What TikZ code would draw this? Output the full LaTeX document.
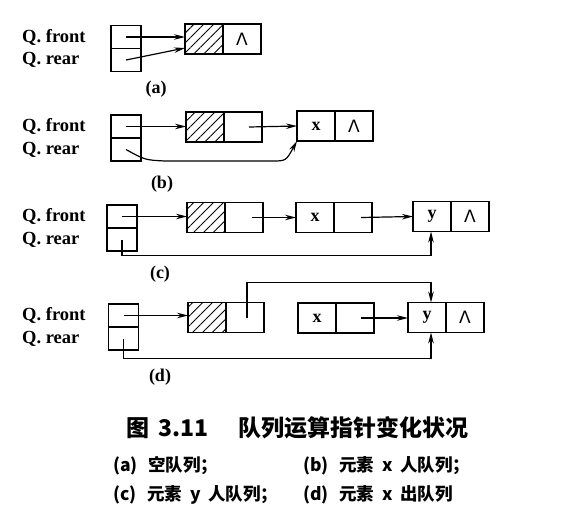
\documentclass[tikz,border=0pt]{standalone}
\usepackage{fontspec}
\newfontfamily\cjk{Noto Sans CJK SC}
\newfontfamily\symf{DejaVu Sans}
\newfontfamily\serifb{Liberation Serif}
\usetikzlibrary{arrows.meta,patterns.meta,positioning}

\begin{document}
\begin{tikzpicture}[x=1pt,y=-1pt]
  \tikzset{cell/.style = {draw,line width=1.2pt,outer sep=0pt,minimum width=38pt,minimum height=30pt,inner sep=0pt,font=\serifb\bfseries\fontsize{18}{18}\selectfont}}
  \tikzset{hatch/.style = {cell,pattern={Lines[angle=45,distance=7pt,line width=0.9pt]}}}
  \tikzset{ptr/.style = {draw,line width=1.2pt,outer sep=0pt,minimum width=30pt,minimum height=23pt,inner sep=0pt}}
  \tikzset{lab/.style = {anchor=west,inner sep=0pt,font=\serifb\bfseries\fontsize{18.5}{18.5}\selectfont}}
  \tikzset{sub/.style = {inner sep=0pt,font=\serifb\bfseries\fontsize{18}{18}\selectfont}}
  \tikzset{captext/.style = {anchor=west,inner sep=0pt,font=\cjk\bfseries\fontsize{17.5}{17.5}\selectfont}}
  \tikzset{edge/.style = {line width=1.2pt,-{Stealth[length=11pt,width=5.5pt]}}}
  \newcommand{\nil}{{\symf\mdseries\fontsize{17}{17}\selectfont Λ}}
  \useasboundingbox (0,0) rectangle (563,525);

  % (a) empty queue
  \node[ptr] (a0f) at (126,37) {};
  \node[ptr,below=0pt of a0f] (a0r) {};
  \node[hatch] (a1d) at (204,39) {};
  \node[cell,right=0pt of a1d] (a1n) {\nil};
  \node[lab] (af) at (22,37) {Q. front};
  \node[lab] (ar) at (22,60) {Q. rear};
  \node[sub] (acap) at (156,89) {(a)};
  \draw[edge] (a0f.center) -- (a0f.center -| a1d.west);
  \draw[edge] (a0r.center) -- ([yshift=-9pt]a1d.west);

  % (b) x enters
  \node[ptr] (b0f) at (126,126.5) {};
  \node[ptr,below=0pt of b0f] (b0r) {};
  \node[hatch] (b1d) at (205,127) {};
  \node[cell,right=0pt of b1d] (b1n) {};
  \node[cell] (b2d) at (316,126) {x};
  \node[cell,right=0pt of b2d] (b2n) {\nil};
  \node[lab] (bf) at (22,126.5) {Q. front};
  \node[lab] (br) at (22,150) {Q. rear};
  \node[sub] (bcap) at (162,184) {(b)};
  \draw[edge] (b0f.center) -- (b0f.center -| b1d.west);
  \draw[edge] ([xshift=6pt]b1n.center) -- (b2d.west);
  \draw[edge] (b0r.center) .. controls (145,160) .. (165,161) -- (272,161)
    .. controls (286,161) .. (b2d.south west);

  % (c) y enters
  \node[ptr] (c0f) at (122,216.5) {};
  \node[ptr,below=0pt of c0f] (c0r) {};
  \node[hatch] (c1d) at (206,217.5) {};
  \node[cell,right=0pt of c1d] (c1n) {};
  \node[cell] (c2d) at (315,217.5) {x};
  \node[cell,right=0pt of c2d] (c2n) {};
  \node[cell] (c3d) at (432,216.5) {y};
  \node[cell,right=0pt of c3d] (c3n) {\nil};
  \node[lab] (cf) at (22,216.5) {Q. front};
  \node[lab] (cr) at (22,240) {Q. rear};
  \node[sub] (ccap) at (160,274) {(c)};
  \draw[edge] (c0f.center) -- (c0f.center -| c1d.west);
  \draw[edge] ([xshift=8pt]c1n.center) -- (c2d.west);
  \draw[edge] ([xshift=8pt]c2n.center) -- (c3d.west);
  \draw[edge] (c0r.center) -- ++(0,16) -| ([xshift=-1pt]c3d.south);

  % (d) x leaves
  \node[ptr] (d0f) at (123.5,315.5) {};
  \node[ptr,below=0pt of d0f] (d0r) {};
  \node[hatch] (d1d) at (207,317.5) {};
  \node[cell,right=0pt of d1d] (d1n) {};
  \node[cell] (d2d) at (317,318) {x};
  \node[cell,right=0pt of d2d] (d2n) {};
  \node[cell] (d3d) at (427,317.5) {y};
  \node[cell,right=0pt of d3d] (d3n) {\nil};
  \node[lab] (df) at (22,315.5) {Q. front};
  \node[lab] (dr) at (22,339) {Q. rear};
  \node[sub] (dcap) at (160,377) {(d)};
  \draw[edge] (d0f.center) -- (d0f.center -| d1d.west);
  \draw[edge] ([xshift=2pt]d1n.center) -- ++(0,-35) -| ([xshift=4pt]d3d.north);
  \draw[edge] ([xshift=6pt]d2n.center) -- (d2n.center -| d3d.west);
  \draw[edge] (d0r.center) -- ++(0,20) -| ([xshift=4pt]d3d.south);

  % caption
  \node[anchor=west,inner sep=0pt,font=\cjk\bfseries\fontsize{23}{23}\selectfont] (title) at (126,428)
    {图\hspace{0.4em}3.11\hspace{1.3em}队列运算指针变化状况};
  \node[captext] (capa) at (113,466) {(a)\hspace{0.6em}空队列；};
  \node[captext] (capb) at (303,466) {(b)\hspace{0.6em}元素\hspace{0.5em}x\hspace{0.4em}人队列；};
  \node[captext] (capc) at (113,495) {(c)\hspace{0.6em}元素\hspace{0.5em}y\hspace{0.4em}人队列；};
  \node[captext] (capd) at (303,495) {(d)\hspace{0.6em}元素\hspace{0.5em}x\hspace{0.4em}出队列};
\end{tikzpicture}
\end{document}
